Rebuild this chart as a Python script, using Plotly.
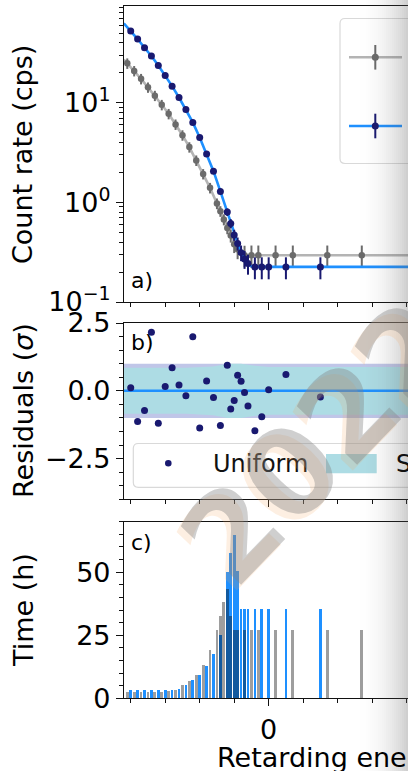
import plotly.graph_objects as go

W, H = 408, 771
FONT = "DejaVu Sans"

# ---- panel a: measured count rates and fitted model (cps) ----
blue_x = [-40, -38, -36, -34, -32, -30, -28, -26, -24, -22, -20, -18, -16, -14,
          -12, -11, -10, -9, -8, -7, -6, -4, -2, 0, 5, 15]
blue_rate = [52.6, 43.7, 35.7, 29.5, 23.7, 18.8, 14.7, 11.3, 8.59, 6.36, 4.49, 3.07,
             2.06, 1.29, 0.80, 0.614, 0.471, 0.386, 0.313, 0.270, 0.243, 0.225,
             0.225, 0.225, 0.225, 0.225]
blue_err = [2.1, 1.7, 1.4, 1.2, 0.95, 0.75, 0.6, 0.45, 0.35, 0.28, 0.2, 0.15, 0.11,
            0.08, 0.07, 0.065, 0.06, 0.058, 0.056, 0.055, 0.055, 0.056, 0.056,
            0.056, 0.056, 0.056]

grey_x = [-41, -39, -37, -35, -33, -31, -29, -27, -25, -23, -21, -19, -17, -15,
          -14, -13, -12, -11, -10, -9, -7, -5, -3, 2, 7, 17, 27]
grey_rate = [24.9, 20.9, 17.4, 14.3, 11.8, 9.55, 7.75, 6.07, 4.73, 3.59, 2.64, 1.93,
             1.40, 0.975, 0.816, 0.673, 0.554, 0.465, 0.380, 0.339, 0.295, 0.295,
             0.295, 0.295, 0.295, 0.295, 0.295]
grey_err = [3.0, 2.5, 2.1, 1.7, 1.4, 1.15, 0.93, 0.73, 0.57, 0.43, 0.32, 0.23, 0.17,
            0.12, 0.10, 0.085, 0.075, 0.07, 0.07, 0.07, 0.072, 0.074, 0.074, 0.074,
            0.074, 0.074, 0.074]

fit_blue_x = [-42, -40, -38, -36, -34, -32, -30, -28, -26, -24, -22, -20, -18, -16,
              -14, -12, -11, -10, -9, -8, -7, -6, -5, -4, 60]
fit_blue = [62.8, 52.6, 43.7, 35.7, 29.5, 23.7, 18.8, 14.7, 11.3, 8.59, 6.36, 4.49,
            3.07, 2.06, 1.29, 0.80, 0.62, 0.475, 0.385, 0.31, 0.265, 0.238, 0.228,
            0.225, 0.225]

fit_grey_x = [-42, -41, -39, -37, -35, -33, -31, -29, -27, -25, -23, -21, -19, -17,
              -15, -14, -13, -12, -11, -10, -9, -8, -7, 60]
fit_grey = [27.2, 24.9, 20.9, 17.4, 14.3, 11.8, 9.55, 7.75, 6.07, 4.73, 3.59, 2.64,
            1.93, 1.40, 0.975, 0.816, 0.673, 0.554, 0.465, 0.385, 0.33, 0.30, 0.295,
            0.295]

# ---- panel b: normalised residuals ----
resid = [0.11, -1.13, -0.73, 2.16, -1.2, 0.16, 0.85, 0.21, -0.18, 1.99, -1.37, 0.36,
         -0.25, -1.28, 0.94, -0.67, -0.36, 0.57, 0.35, -0.06, -0.56, -1.47, -0.96,
         0.04, 0.6, -0.23]
band_x = [-42, -24, -16, -12, -8, -4, 0, 60]
band_outer = [1.0, 1.0, 1.0, 1.0, 1.0, 1.0, 1.0, 1.0]
band_inner = [0.85, 0.85, 0.9, 1.0, 1.0, 0.92, 0.88, 0.88]

# ---- panel c: measurement time per retarding energy (h) ----
blue_time = [3.3, 3.3, 3.3, 3.3, 3.3, 3.3, 3.5, 4.0, 5.2, 7.2, 9.2, 12.8, 17.8, 25.4,
             50.1, 57.7, 64.8, 50.5, 35.6, 35.6, 35.6, 35.6, 35.6, 35.6, 35.6, 35.6]
grey_time = [2.6, 2.6, 2.6, 2.6, 2.6, 2.6, 3.0, 3.5, 5.5, 7.0, 9.5, 13.5, 19.3, 27.2,
             32.6, 38.1, 43.5, 32.6, 27.2, 27.2, 27.2, 27.2, 27.2, 27.2, 27.2, 27.2,
             27.2]

NAVY = "#191970"
BLUE = "#1e90ff"
DGREY = "#6b6b6b"
LGREY = "#b4b4b4"


def px(x):
    return x / W


def py(y):
    return 1 - y / H


X_RANGE = [-41.95, 40.4]

fig = go.Figure()

# panel a
fig.add_trace(go.Scatter(x=fit_grey_x, y=fit_grey, mode="lines",
                         line=dict(color=LGREY, width=2.6),
                         xaxis="x3", yaxis="y3", showlegend=False))
fig.add_trace(go.Scatter(x=grey_x, y=grey_rate, mode="markers",
                         marker=dict(color=DGREY, size=6.5),
                         error_y=dict(type="data", array=grey_err, color=DGREY,
                                      thickness=2, width=0),
                         xaxis="x3", yaxis="y3", showlegend=False))
fig.add_trace(go.Scatter(x=fit_blue_x, y=fit_blue, mode="lines",
                         line=dict(color=BLUE, width=2.6),
                         xaxis="x3", yaxis="y3", showlegend=False))
fig.add_trace(go.Scatter(x=blue_x, y=blue_rate, mode="markers",
                         marker=dict(color=NAVY, size=7),
                         error_y=dict(type="data", array=blue_err, color=NAVY,
                                      thickness=2, width=0),
                         xaxis="x3", yaxis="y3", showlegend=False))

# panel b: ±1 sigma bands, zero line, residual points
fig.add_trace(go.Scatter(x=band_x, y=band_outer, mode="lines", line=dict(width=0),
                         xaxis="x2", yaxis="y2", showlegend=False))
fig.add_trace(go.Scatter(x=band_x, y=[-v for v in band_outer], mode="lines",
                         line=dict(width=0), fill="tonexty",
                         fillcolor="rgb(192,198,232)",
                         xaxis="x2", yaxis="y2", showlegend=False))
fig.add_trace(go.Scatter(x=band_x, y=band_inner, mode="lines", line=dict(width=0),
                         xaxis="x2", yaxis="y2", showlegend=False))
fig.add_trace(go.Scatter(x=band_x, y=[-v for v in band_inner], mode="lines",
                         line=dict(width=0), fill="tonexty",
                         fillcolor="rgb(173,220,228)",
                         xaxis="x2", yaxis="y2", showlegend=False))
fig.add_trace(go.Scatter(x=[-42, 60], y=[0, 0], mode="lines",
                         line=dict(color=BLUE, width=2.4),
                         xaxis="x2", yaxis="y2", showlegend=False))
fig.add_trace(go.Scatter(x=blue_x, y=resid, mode="markers",
                         marker=dict(color=NAVY, size=7),
                         xaxis="x2", yaxis="y2", showlegend=False))

# panel c: time distributions
fig.add_trace(go.Bar(x=blue_x, y=blue_time, width=0.8,
                     marker=dict(color=BLUE, line=dict(width=0)),
                     xaxis="x", yaxis="y", showlegend=False))
fig.add_trace(go.Bar(x=grey_x, y=grey_time, width=0.8,
                     marker=dict(color="rgba(0,0,0,0.38)", line=dict(width=0)),
                     xaxis="x", yaxis="y", showlegend=False))

AX = dict(showline=True, linecolor="#111", linewidth=1.2, ticks="outside",
          ticklen=7, tickwidth=1.2, tickcolor="#111", showgrid=False,
          zeroline=False, automargin=False,
          tickfont=dict(family=FONT, size=27, color="#000"))

xcommon = dict(AX, range=X_RANGE, domain=[px(124), 1], mirror=True,
               tickmode="linear", tick0=0, dtick=50,
               minor=dict(ticks="outside", ticklen=4, tickwidth=1.1,
                          tickcolor="#111", tick0=0, dtick=10))

minor_log = [0.2, 0.3, 0.4, 0.5, 0.6, 0.7, 0.8, 0.9, 2, 3, 4, 5, 6, 7, 8, 9,
             20, 30, 40, 50, 60, 70, 80, 90]

fig.update_layout(
    width=W, height=H, margin=dict(l=0, r=0, t=0, b=0),
    paper_bgcolor="white", plot_bgcolor="white",
    barmode="overlay", bargap=0,
    font=dict(family=FONT, color="#000"),
    xaxis=dict(xcommon, anchor="y", showticklabels=True),
    yaxis=dict(AX, anchor="x", domain=[py(698.3), py(521.7)], range=[0, 70],
               tickmode="array", tickvals=[0, 25, 50], ticktext=["0", "25", "50"],
               minor=dict(ticks="outside", ticklen=4, tickwidth=1.1,
                          tickcolor="#111", tick0=0, dtick=5)),
    xaxis2=dict(xcommon, anchor="y2", showticklabels=False),
    yaxis2=dict(AX, anchor="x2", domain=[py(499.3), py(323)], range=[-4, 2.5],
                tickmode="array", tickvals=[-2.5, 0, 2.5],
                ticktext=["\u22122.5", "0.0", "2.5"],
                minor=dict(ticks="outside", ticklen=4, tickwidth=1.1,
                           tickcolor="#111", tick0=0, dtick=0.5)),
    xaxis3=dict(xcommon, anchor="y3", showticklabels=False),
    yaxis3=dict(AX, anchor="x3", type="log", domain=[py(302), py(6)],
                range=[-1, 1.972], tickmode="array", tickvals=[0.1, 1, 10],
                ticktext=["10<sup>\u22121</sup>", "10<sup>0</sup>", "10<sup>1</sup>"],
                minor=dict(ticks="outside", ticklen=4, tickwidth=1.1,
                           tickcolor="#111", tickmode="array", tickvals=minor_log)),
)

shapes = []
ann = []


def rrect(x0, y0, x1, y1, r):
    return ("M {a},{b} L {c},{b} Q {d},{b} {d},{e} L {d},{f} Q {d},{g} {c},{g} "
            "L {a},{g} Q {h},{g} {h},{f} L {h},{e} Q {h},{b} {a},{b} Z").format(
        a=px(x0 + r), b=py(y0), c=px(x1 - r), d=px(x1), e=py(y0 + r),
        f=py(y1 - r), g=py(y1), h=px(x0))


# legend of panel a
shapes.append(dict(type="path", xref="paper", yref="paper",
                   path=rrect(340, 18.5, 440, 163.5, 5),
                   line=dict(color="#d9d9d9", width=1.2), fillcolor="rgba(255,255,255,0.85)"))
for yy, lc, mc in [(57.3, LGREY, DGREY), (126, BLUE, NAVY)]:
    shapes.append(dict(type="line", xref="paper", yref="paper",
                       x0=px(349), x1=px(402), y0=py(yy), y1=py(yy),
                       line=dict(color=lc, width=2.6)))
    shapes.append(dict(type="line", xref="paper", yref="paper",
                       x0=px(375.3), x1=px(375.3), y0=py(yy - 12.3), y1=py(yy + 12.3),
                       line=dict(color=mc, width=2)))
    shapes.append(dict(type="circle", xref="paper", yref="paper",
                       x0=px(371.8), x1=px(378.8), y0=py(yy - 3.5), y1=py(yy + 3.5),
                       fillcolor=mc, line=dict(width=0)))

# legend of panel b
shapes.append(dict(type="path", xref="paper", yref="paper",
                   path=rrect(133.3, 443.5, 460, 487.3, 5),
                   line=dict(color="#d9d9d9", width=1.2), fillcolor="rgba(255,255,255,0.85)"))
shapes.append(dict(type="circle", xref="paper", yref="paper",
                   x0=px(165), x1=px(171.6), y0=py(460), y1=py(466.6),
                   fillcolor=NAVY, line=dict(width=0)))
shapes.append(dict(type="rect", xref="paper", yref="paper",
                   x0=px(326), x1=px(376.7), y0=py(454), y1=py(473.3),
                   fillcolor="rgb(173,220,228)", line=dict(width=0)))
ann.append(dict(text="Uniform", x=px(211), y=py(463.5), xref="paper", yref="paper",
                xanchor="left", yanchor="middle", showarrow=False,
                font=dict(family=FONT, size=24, color="#111")))
ann.append(dict(text="Stat.", x=px(394), y=py(463.5), xref="paper", yref="paper",
                xanchor="left", yanchor="middle", showarrow=False,
                font=dict(family=FONT, size=24, color="#111")))

# panel labels
for lbl, yy in [("a)", 280), ("b)", 342), ("c)", 542)]:
    ann.append(dict(text=lbl, x=px(129), y=py(yy), xref="paper", yref="paper",
                    xanchor="left", yanchor="middle", showarrow=False,
                    font=dict(family=FONT, size=22, color="#000")))

# axis titles
for txt, yy in [("Count rate (cps)", 155), ("Residuals (<i>\u03c3</i>)", 411),
                ("Time (h)", 610)]:
    ann.append(dict(text=txt, x=px(23), y=py(yy), xref="paper", yref="paper",
                    xanchor="center", yanchor="middle", textangle=-90,
                    showarrow=False, font=dict(family=FONT, size=27, color="#000")))
ann.append(dict(text="Retarding energy \u2212 18574 (eV)", x=px(215), y=py(757),
                xref="paper", yref="paper", xanchor="left", yanchor="middle",
                showarrow=False, font=dict(family=FONT, size=27, color="#000")))

# year stamp across the lower panels
ann.append(dict(text="<b>2022</b>", x=px(316), y=py(448), xref="paper", yref="paper",
                xanchor="center", yanchor="middle", textangle=-46, showarrow=False,
                font=dict(family=FONT, size=120, color="rgba(245,165,95,0.18)")))
ann.append(dict(text="<b>2022</b>", x=px(321), y=py(443), xref="paper", yref="paper",
                xanchor="center", yanchor="middle", textangle=-46, showarrow=False,
                font=dict(family=FONT, size=120, color="rgba(128,128,128,0.38)")))

# shading along the right edge
n = 26
for i in range(n):
    a = 0.29 * ((i + 1) / n) ** 2.2
    shapes.append(dict(type="rect", xref="paper", yref="paper", layer="above",
                       x0=px(356 + 2 * i), x1=px(358 + 2 * i), y0=0, y1=1,
                       fillcolor="rgba(90,90,90,%.3f)" % a, line=dict(width=0)))

fig.update_layout(shapes=shapes, annotations=ann)
fig.write_html("out.html")
